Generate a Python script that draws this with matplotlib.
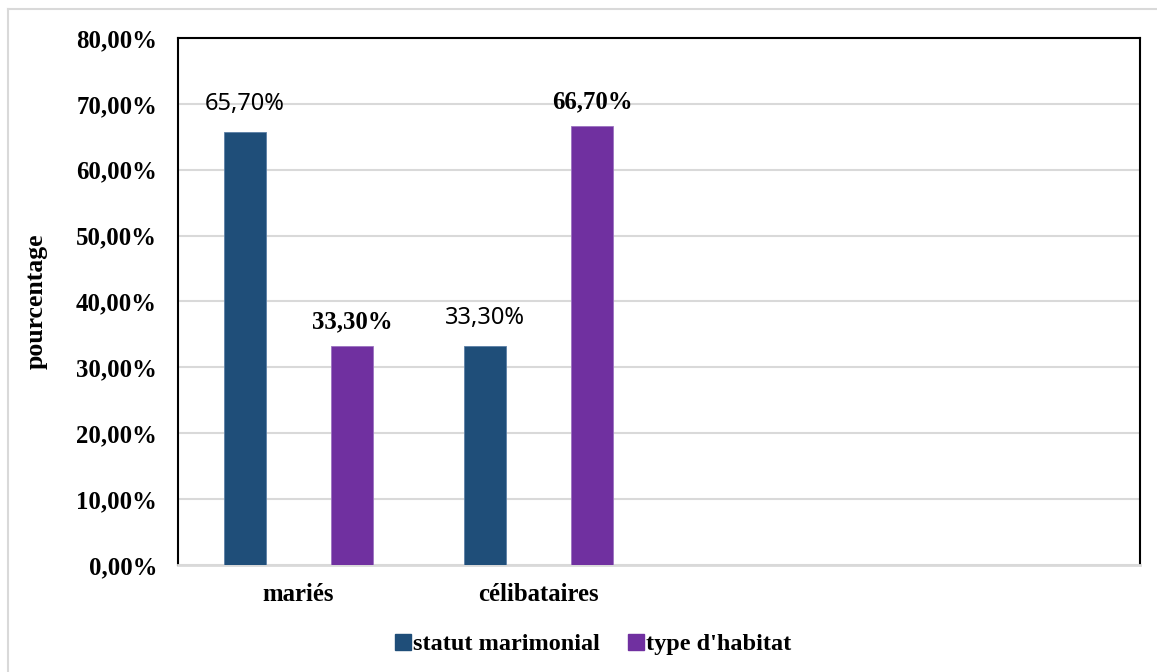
import matplotlib.pyplot as plt
import numpy as np
from matplotlib.lines import Line2D

categories = ['mariés', 'célibataires', '', '']
statut = [65.7, 33.3]
habitat = [33.3, 66.7]
yticks = [0, 10, 20, 30, 40, 50, 60, 70, 80]

blue = '#1F4E79'
purple = '#7030A0'
grid_col = '#D9D9D9'
serif = 'Liberation Serif'


def fmt(v):
    return f'{v:.2f}'.replace('.', ',') + '%'


fig = plt.figure(figsize=(11.57, 6.72), dpi=100)
ax = fig.add_axes([0.1538, 0.1592, 0.8315, 0.7843])

x = np.arange(len(statut))
w = 0.175
off = 0.223
b1 = ax.bar(x - off, statut, w, color=blue, edgecolor='#5B7FA6', linewidth=0.6, zorder=3)
b2 = ax.bar(x + off, habitat, w, color=purple, edgecolor='#9B72C0', linewidth=0.6, zorder=3)

for rect, v in zip(b1, statut):
    ax.annotate(fmt(v), (rect.get_x() + rect.get_width() / 2, v), xytext=(0, 28),
                textcoords='offset pixels', ha='center', va='center',
                fontsize=17, family='Noto Sans', color='black')
for rect, v in zip(b2, habitat):
    ax.annotate(fmt(v), (rect.get_x() + rect.get_width() / 2, v), xytext=(0, 24),
                textcoords='offset pixels', ha='center', va='center',
                fontsize=17.8, family=serif, fontweight='bold', color='black')

ax.set_xlim(-0.5, len(categories) - 0.5)
ax.set_ylim(0, 80)
ax.set_yticks(yticks)
ax.set_yticklabels([fmt(t) for t in yticks], family=serif, fontweight='bold', fontsize=17.8)
ax.set_xticks(np.arange(len(categories)))
ax.set_xticklabels(categories, family=serif, fontweight='bold', fontsize=17.8)
ax.tick_params(axis='both', length=0)
ax.tick_params(axis='y', pad=15)
ax.tick_params(axis='x', pad=13)

ax.yaxis.grid(True, color=grid_col, linewidth=1.5, zorder=0)
ax.set_axisbelow(True)
for s in ['top', 'left', 'right']:
    ax.spines[s].set_color('black')
    ax.spines[s].set_linewidth(1.5)
ax.spines['bottom'].set_color(grid_col)
ax.spines['bottom'].set_linewidth(2)

ax.set_ylabel('pourcentage', family=serif, fontweight='bold', fontsize=18.5)
ax.yaxis.set_label_coords(-0.135, 0.5)

handles = [Line2D([], [], marker='s', linestyle='', markersize=11, color=blue),
           Line2D([], [], marker='s', linestyle='', markersize=11, color=purple)]
fig.legend(handles, ['statut marimonial', "type d'habitat"], loc='center',
           bbox_to_anchor=(592 / 1157, 1 - 644 / 672), ncol=2, frameon=False,
           prop={'family': serif, 'weight': 'bold', 'size': 17.5},
           handletextpad=0.0, columnspacing=1.1, handlelength=0.8)

# outer frame (left and top edges visible)
fig.add_artist(Line2D([8 / 1157, 8 / 1157], [0, 1 - 9 / 672], color=grid_col, lw=1.5,
                      transform=fig.transFigure))
fig.add_artist(Line2D([8 / 1157, 1], [1 - 9 / 672, 1 - 9 / 672], color=grid_col, lw=1.5,
                      transform=fig.transFigure))

fig.savefig('out.png', dpi=100)
plt.close(fig)
